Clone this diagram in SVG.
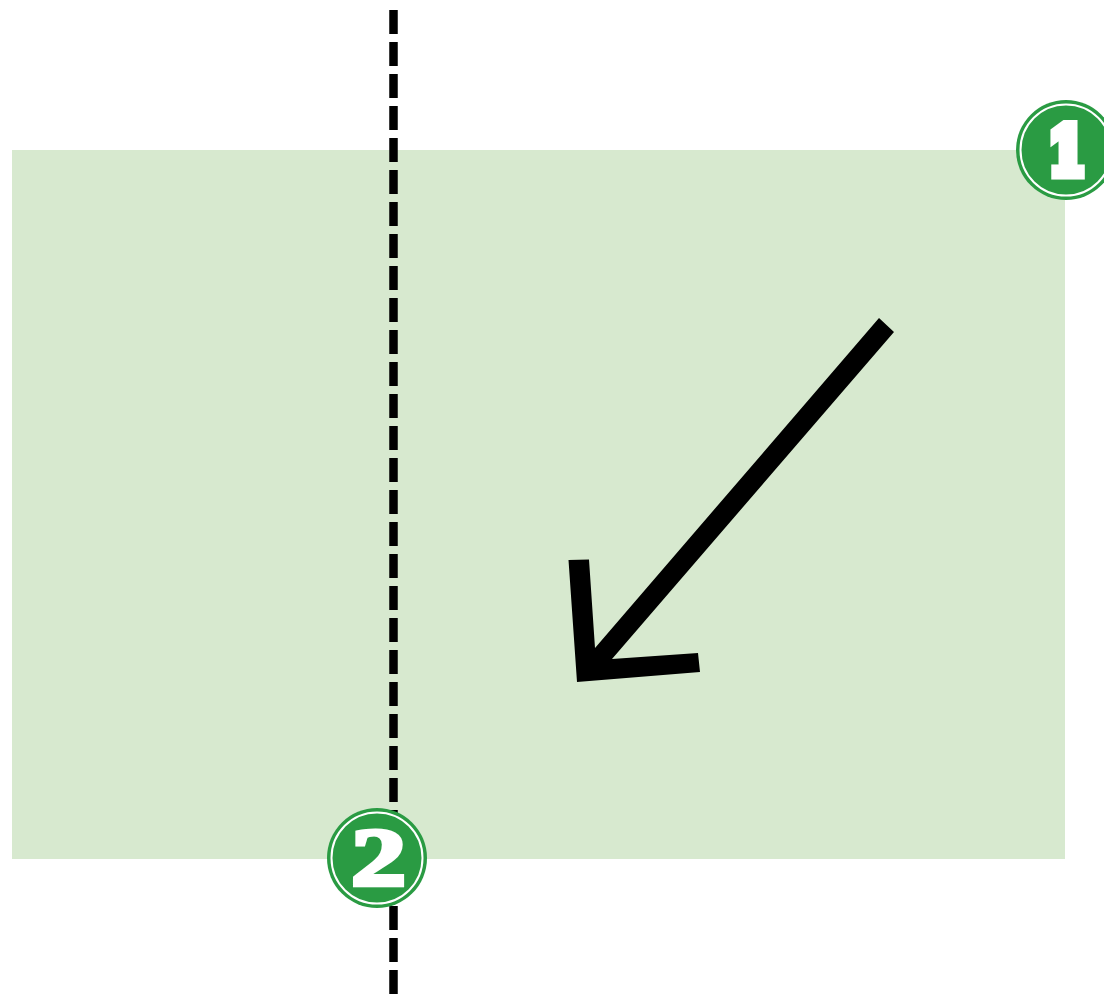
<svg xmlns="http://www.w3.org/2000/svg" width="1104" height="995" viewBox="0 0 1104 995">
<style>
.badge{fill:#2a9b43}
.ring{fill:none;stroke:#fff;stroke-width:2}
.num{font-weight:700;fill:#fff;stroke:#fff;stroke-linejoin:miter;text-anchor:middle}
</style>
<rect width="1104" height="995" fill="#fff"/>
<rect id="area" x="12" y="150" width="1053" height="709" fill="#d7e9cf"/>
<g id="connectors">
<line id="divider" x1="393.5" y1="10" x2="393.5" y2="995" stroke="#000" stroke-width="8.500" stroke-dasharray="24 8"/>
<path id="arrow" d="M879 318L894 332L612 659L698 653L700 672L577 682L568.5 560L589 559.500L595 648Z" fill="#000"/>
</g>
<g id="badge-1"><circle class="badge" cx="1066" cy="150" r="50"/><circle class="ring" cx="1066" cy="150" r="45.500"/><text class="num" font-family="'DejaVu Serif',serif" transform="translate(1067 174) scale(.82 1)" font-size="65" stroke-width="11" x="0" y="0">1</text></g>
<g id="badge-2"><circle class="badge" cx="377" cy="858" r="50"/><circle class="ring" cx="377" cy="858" r="45.500"/><text class="num" font-family="'Liberation Serif',serif" transform="translate(378.500 884.500) scale(1.33 1)" font-size="83" stroke-width="4" x="0" y="0">2</text></g>
</svg>
